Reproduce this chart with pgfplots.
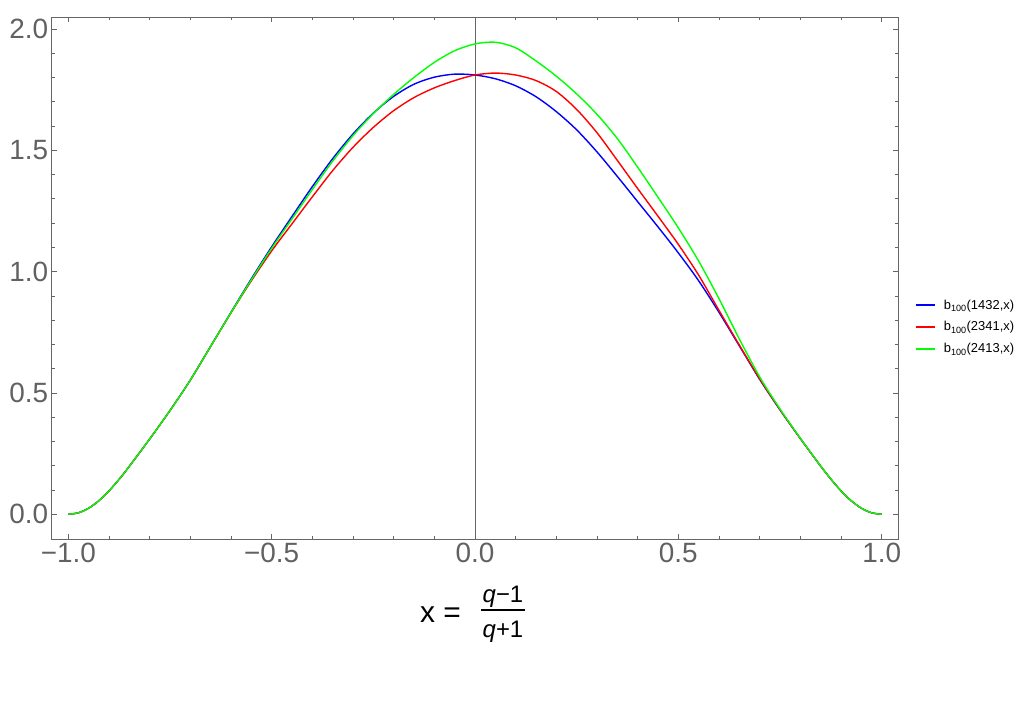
\documentclass[border=0pt]{standalone}
\usepackage{fontspec}
\setmainfont{Liberation Sans}
\usepackage{pgfplots}
\pgfplotsset{compat=1.18}
\definecolor{framegray}{gray}{0.4}
\definecolor{labgray}{gray}{0.38}
\begin{document}
\begin{tikzpicture}
\path[use as bounding box] (0,0) rectangle (1029bp,720bp);
\begin{axis}[
  at={(51.7bp,180.7bp)}, anchor=south west,
  scale only axis, width=846.6bp, height=522.3bp,
  xmin=-1.0408, xmax=1.0408, ymin=-0.103, ymax=2.049,
  axis line style={framegray, line width=0.8bp},
  every tick/.style={framegray, line width=0.6bp},
  tick align=inside,
  xtick pos=both, ytick pos=both,
  xticklabel pos=left, yticklabel pos=left,
  major tick length=5bp, minor tick length=3bp,
  xtick={-1,-0.5,0,0.5,1}, xticklabels={−1.0,−0.5,0.0,0.5,1.0},
  ytick={0,0.5,1,1.5,2}, yticklabels={0.0,0.5,1.0,1.5,2.0},
  minor x tick num=4, minor y tick num=4,
  ticklabel style={font=\fontsize{28}{30}\selectfont, text=labgray},
  legend style={at={(1.0195,0.4065)}, anchor=west, draw=none, fill=none,
    font=\fontsize{13}{15}\selectfont, row sep=7bp, inner xsep=0bp},
  legend cell align=left,
  legend image code/.code={\draw[#1, line width=1.8bp] (0bp,0bp) -- (19bp,0bp);},
  clip=false,
]
\draw[framegray, line width=0.8bp] (axis cs:0,-0.103) -- (axis cs:0,2.049);
\addplot[blue, line width=1.4bp, smooth] coordinates {
(-1.000,0.000) (-0.975,0.0063) (-0.95,0.025) (-0.925,0.0556) (-0.90,0.0962) (-0.875,0.1443) (-0.85,0.1974) (-0.80,0.310) (-0.75,0.4275) (-0.70,0.553) (-0.65,0.692) (-0.60,0.832) (-0.55,0.970) (-0.50,1.102) (-0.45,1.227) (-0.40,1.350) (-0.35,1.465) (-0.30,1.567) (-0.25,1.653) (-0.20,1.722) (-0.15,1.772) (-0.10,1.801) (-0.05,1.8135) (0.00,1.810) (0.05,1.7945) (0.10,1.7655) (0.15,1.7205) (0.20,1.659) (0.25,1.584) (0.30,1.493) (0.35,1.392) (0.40,1.288) (0.45,1.184) (0.50,1.077) (0.55,0.962) (0.60,0.832) (0.65,0.694) (0.70,0.556) (0.75,0.430) (0.80,0.312) (0.85,0.1985) (0.875,0.145) (0.90,0.0965) (0.925,0.0557) (0.95,0.025) (0.975,0.0063) (1.000,0.000)
};
\addlegendentry{\hspace{6bp}b\textsubscript{100}(1432,x)}
\addplot[red, line width=1.4bp, smooth] coordinates {
(-1.000,0.000) (-0.975,0.0063) (-0.95,0.025) (-0.925,0.0556) (-0.90,0.0962) (-0.875,0.1443) (-0.85,0.1974) (-0.80,0.310) (-0.75,0.4275) (-0.70,0.553) (-0.65,0.692) (-0.60,0.830) (-0.55,0.962) (-0.50,1.085) (-0.45,1.197) (-0.40,1.308) (-0.35,1.416) (-0.30,1.512) (-0.25,1.594) (-0.20,1.663) (-0.15,1.717) (-0.10,1.757) (-0.05,1.787) (0.00,1.810) (0.05,1.818) (0.10,1.810) (0.15,1.787) (0.20,1.742) (0.25,1.668) (0.30,1.572) (0.35,1.458) (0.40,1.342) (0.45,1.228) (0.50,1.112) (0.55,0.985) (0.60,0.840) (0.65,0.697) (0.70,0.558) (0.75,0.431) (0.80,0.312) (0.85,0.1985) (0.875,0.145) (0.90,0.0965) (0.925,0.0557) (0.95,0.025) (0.975,0.0063) (1.000,0.000)
};
\addlegendentry{\hspace{6bp}b\textsubscript{100}(2341,x)}
\addplot[green, line width=1.4bp, smooth] coordinates {
(-1.000,0.000) (-0.975,0.0063) (-0.95,0.025) (-0.925,0.0556) (-0.90,0.0962) (-0.875,0.1443) (-0.85,0.1974) (-0.80,0.310) (-0.75,0.4275) (-0.70,0.553) (-0.65,0.692) (-0.60,0.831) (-0.55,0.966) (-0.50,1.096) (-0.45,1.217) (-0.40,1.338) (-0.35,1.455) (-0.30,1.560) (-0.25,1.651) (-0.20,1.730) (-0.15,1.800) (-0.10,1.862) (-0.05,1.910) (0.00,1.938) (0.05,1.945) (0.10,1.922) (0.15,1.868) (0.20,1.805) (0.25,1.732) (0.30,1.648) (0.35,1.548) (0.40,1.430) (0.45,1.306) (0.50,1.180) (0.55,1.043) (0.60,0.888) (0.65,0.722) (0.70,0.566) (0.75,0.434) (0.80,0.313) (0.85,0.199) (0.875,0.1455) (0.90,0.0967) (0.925,0.0558) (0.95,0.025) (0.975,0.0063) (1.000,0.000)
};
\addlegendentry{\hspace{6bp}b\textsubscript{100}(2413,x)}
\end{axis}
% x-axis label: x = (q-1)/(q+1)
\node[anchor=base west, inner sep=0pt, font=\fontsize{30}{32}\selectfont] at (420bp,97bp) {x =};
\node[anchor=base, inner sep=0pt, font=\fontsize{24}{26}\selectfont] at (503bp,117bp) {\itshape q\upshape −1};
\draw[black, line width=1.5bp] (481bp,110bp) -- (525bp,110bp);
\node[anchor=base, inner sep=0pt, font=\fontsize{24}{26}\selectfont] at (503bp,82bp) {\itshape q\upshape +1};
\end{tikzpicture}
\end{document}
